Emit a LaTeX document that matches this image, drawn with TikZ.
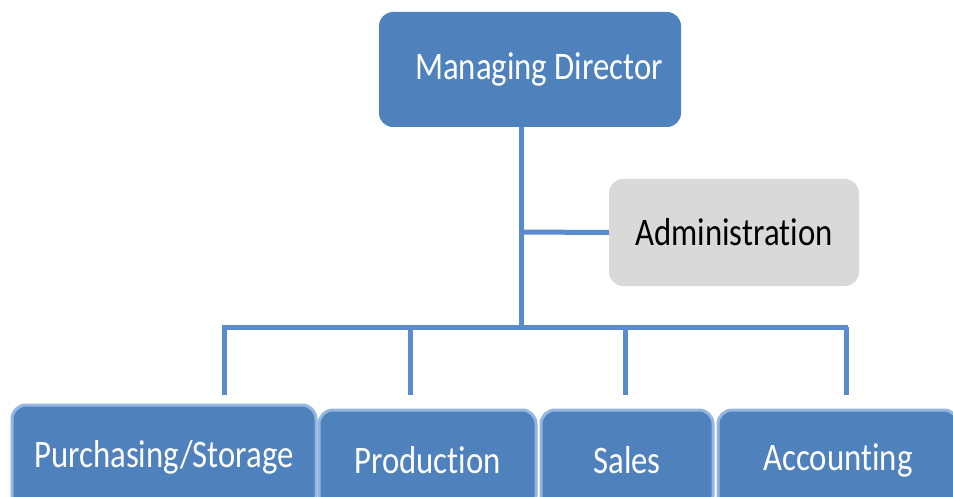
\documentclass[tikz,border=0pt]{standalone}
\usepackage{fontspec}
\setmainfont{Carlito}[FakeStretch=0.84, RawFeature=-liga]
\usepackage{tikz}
\usepackage{xcolor}

\definecolor{boxblue}{HTML}{4F81BD}
\definecolor{linkblue}{HTML}{5B8BCF}
\definecolor{rimblue}{HTML}{93B5E0}
\definecolor{admgray}{HTML}{D9D9D9}

\begin{document}
\begin{tikzpicture}[
            x=1pt, y=-1pt,
            unit/.style={rectangle, fill=boxblue, text=white, rounded corners=14pt, font=\fontsize{39}{44}\selectfont, inner sep=0pt},
            dept/.style={unit, draw=rimblue, line width=3pt, minimum height=105pt},
            staff/.style={rectangle, fill=admgray, text=black, rounded corners=14pt, font=\fontsize{39}{44}\selectfont, inner sep=0pt},
            link/.style={draw=linkblue, line width=5pt}
        ]
            % page size
            \useasboundingbox (0,0) rectangle (953,497);
            \clip (0,0) rectangle (953,497);

            % Top of the tree
            \node[unit, minimum width=302pt, minimum height=115pt] (md) at (530,69.5) {\hspace{18pt}Managing Director};

            % Staff position
            \node[staff, minimum width=250pt, minimum height=107pt] (adm) at (734,232.5) {Administration};

            % Departments (cut by the page edge at the bottom)
            \node[dept, minimum width=304pt] (purch) at (164,457.5) {Purchasing/Storage};
            \node[dept, minimum width=217pt, minimum height=100pt] (prod) at (427.5,460) {Production};
            \node[dept, minimum width=172pt, minimum height=100pt] (sales) at (627,460) {Sales};
            \node[dept, minimum width=240pt, minimum height=100pt] (acct) at (838,460) {Accounting};

            % Branch points
            \coordinate (top) at (521,127);
            \coordinate (staffjoin) at (521,232);
            \coordinate (bus) at (521,327);
            \coordinate (busL) at (222,327);
            \coordinate (busR) at (848,327);
            \coordinate (endA) at (224,395);
            \coordinate (endB) at (410,395);
            \coordinate (endC) at (625,395);
            \coordinate (endD) at (846,395);

            % Connectors
            \draw[link] (top) -- (bus);
            \draw[link] (staffjoin) -- (adm.west);
            \draw[link] (busL) -- (busR);
            \draw[link] (busL -| endA) -- (endA);
            \draw[link] (busL -| endB) -- (endB);
            \draw[link] (busL -| endC) -- (endC);
            \draw[link] (busL -| endD) -- (endD);

        \end{tikzpicture}
\end{document}
